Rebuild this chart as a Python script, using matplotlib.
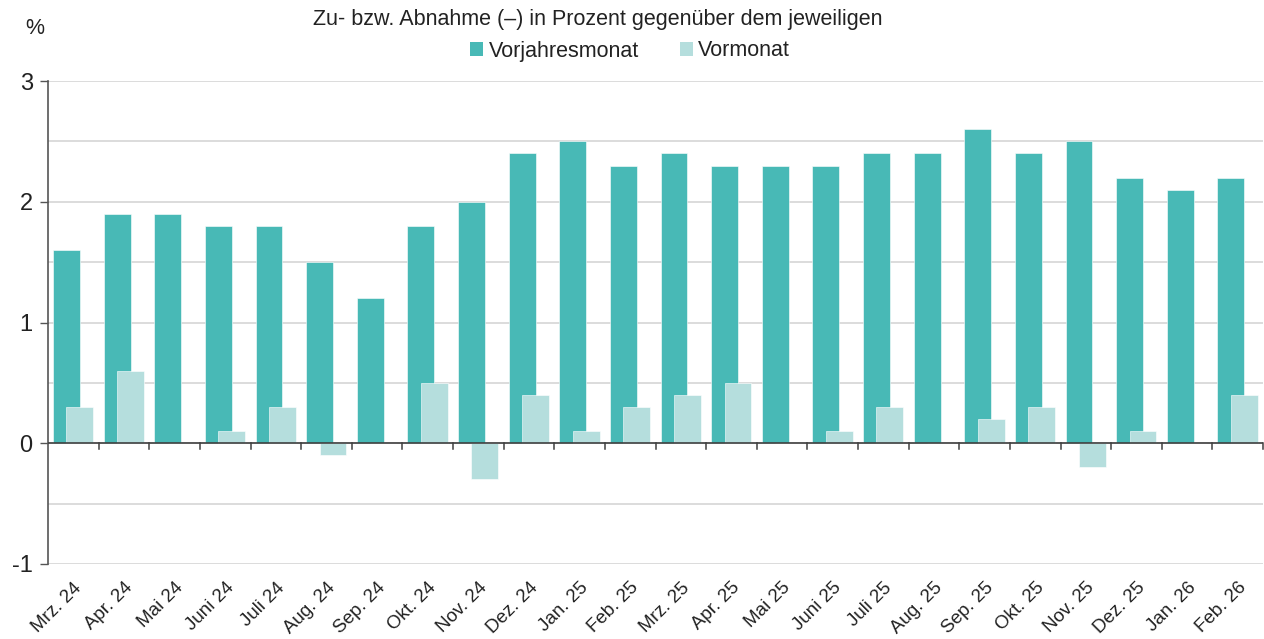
import numpy as np
import matplotlib
matplotlib.use("Agg")
from matplotlib import pyplot as plt
from matplotlib.patches import Patch

months = ["Mrz. 24", "Apr. 24", "Mai 24", "Juni 24", "Juli 24", "Aug. 24",
          "Sep. 24", "Okt. 24", "Nov. 24", "Dez. 24", "Jan. 25", "Feb. 25",
          "Mrz. 25", "Apr. 25", "Mai 25", "Juni 25", "Juli 25", "Aug. 25",
          "Sep. 25", "Okt. 25", "Nov. 25", "Dez. 25", "Jan. 26", "Feb. 26"]
vorjahresmonat = [1.6, 1.9, 1.9, 1.8, 1.8, 1.5, 1.2, 1.8, 2.0, 2.4, 2.5, 2.3,
                  2.4, 2.3, 2.3, 2.3, 2.4, 2.4, 2.6, 2.4, 2.5, 2.2, 2.1, 2.2]
vormonat = [0.3, 0.6, 0.0, 0.1, 0.3, -0.1, 0.0, 0.5, -0.3, 0.4, 0.1, 0.3,
            0.4, 0.5, 0.0, 0.1, 0.3, 0.0, 0.2, 0.3, -0.2, 0.1, 0.0, 0.4]

DARK = "#48b9b6"
LIGHT = "#b5dedd"
TEXT = "#222222"

plt.rcParams["font.family"] = ["Liberation Sans", "DejaVu Sans"]

fig = plt.figure(figsize=(12.64, 6.39), dpi=100)
ax = fig.add_axes([48 / 1264, 1 - 564 / 639, 1215 / 1264, (564 - 81) / 639])

x = np.arange(len(months))
w = 0.53
ax.bar(x - 0.135, vorjahresmonat, width=w, color=DARK, edgecolor="white",
       linewidth=0.4, zorder=2)
ax.bar(x + 0.13, vormonat, width=w, color=LIGHT, edgecolor="white",
       linewidth=0.4, zorder=3)

ax.set_xlim(-0.5, len(months) - 0.5)
ax.set_ylim(-1, 3)
for yv in np.arange(-1, 3.01, 0.5):
    ax.axhline(yv, color="#d9d9d9", linewidth=1.3, zorder=1)
ax.axhline(0, color="#404040", linewidth=1.2, zorder=4)

for s in ["top", "right", "bottom"]:
    ax.spines[s].set_visible(False)
ax.spines["left"].set_color("#555555")
ax.spines["left"].set_linewidth(1.2)

ax.set_yticks([-1, 0, 1, 2, 3])
ax.set_yticklabels(["-1", "0", "1", "2", "3"])
ax.tick_params(axis="y", length=6, width=1, color="#555555", labelsize=17,
               labelcolor=TEXT, pad=5)

# category labels, rotated
ax.set_xticks(x)
ax.set_xticklabels(months, rotation=45, ha="right", rotation_mode="anchor",
                   fontsize=13.5, color=TEXT)
ax.tick_params(axis="x", length=0, pad=11)

# boundary ticks on the zero line
for b in np.arange(0.5, len(months), 1.0):
    ax.plot([b, b], [0, -0.045], color="#404040", linewidth=1.1, zorder=4,
            clip_on=False)

fig.text(35 / 1264, 1 - 29 / 639, "%", ha="center", va="center",
         fontsize=15.5, color=TEXT)
fig.text(598 / 1264, 1 - 19 / 639,
         "Zu- bzw. Abnahme (\u2013) in Prozent gegenüber dem jeweiligen",
         ha="center", va="center", fontsize=15.5, color=TEXT)

handles = [Patch(facecolor=DARK), Patch(facecolor=LIGHT)]
fig.legend(handles, ["Vorjahresmonat", "Vormonat"], loc="center",
           bbox_to_anchor=(630 / 1264, 1 - 51 / 639), ncol=2, frameon=False,
           fontsize=15.5, handlelength=0.6, handleheight=0.6,
           handletextpad=0.25, columnspacing=1.9, labelcolor=TEXT)

plt.savefig("out.png", dpi=100)
